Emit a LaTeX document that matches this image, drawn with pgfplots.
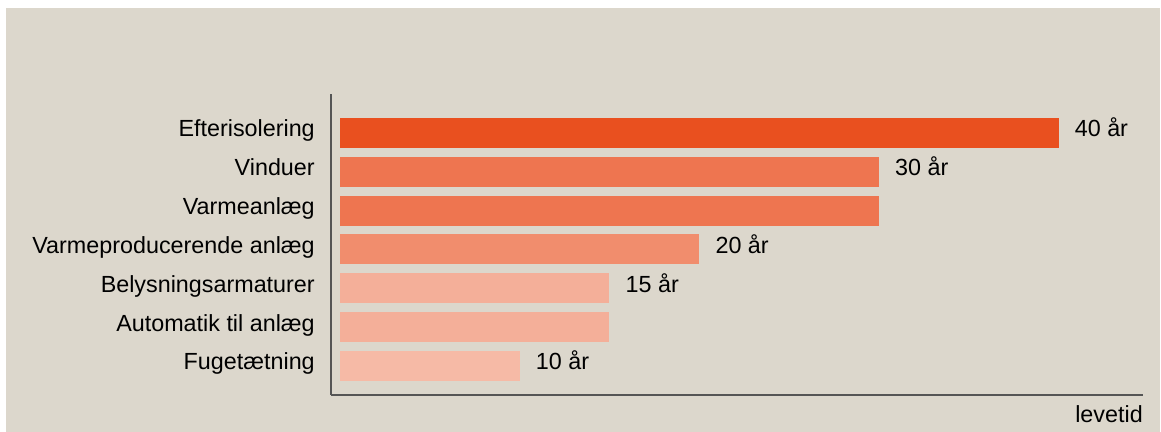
\documentclass[border=0pt]{standalone}
\usepackage{fontspec}
\setmainfont{Liberation Sans}
\usepackage{pgfplots}
\pgfplotsset{compat=1.18}
\definecolor{bg}{HTML}{DCD7CC}
\definecolor{axisgray}{HTML}{555555}
\definecolor{c1}{HTML}{E9501F}
\definecolor{c2}{HTML}{EE7550}
\definecolor{c3}{HTML}{F18D6D}
\definecolor{c4}{HTML}{F4AF99}
\definecolor{c5}{HTML}{F6BAA6}
\newcommand{\lblfont}{\fontsize{17.5}{20}\selectfont}
\begin{document}
\begin{tikzpicture}
\path[use as bounding box, fill=white] (0,0) rectangle (870.75pt,324pt);
\fill[bg] (4.5pt,0) rectangle (870pt,318pt);
\begin{axis}[
  at={(248.25pt,27.75pt)}, anchor=south west,
  scale only axis, width=609pt, height=225.75pt,
  xmin=-0.5, xmax=44.7, ymin=-0.75, ymax=7,
  axis x line=bottom, axis y line=left,
  axis line style={-, draw=axisgray, line width=1pt},
  xtick=\empty, ytick={0,...,6},
  yticklabels={Fugetætning, Automatik til anlæg, Belysningsarmaturer, Varmeproducerende anlæg, Varmeanlæg, Vinduer, Efterisolering},
  major tick length=0pt,
  yticklabel style={font=\lblfont, inner sep=0pt, anchor=base east, xshift=-12pt, yshift=-3pt},
  xbar, bar width=22.5pt, bar shift=0pt,
  xlabel={levetid},
  xlabel style={at={(axis description cs:1,0)}, anchor=north east, inner sep=0pt, yshift=-7.5pt, font=\lblfont},
  nodes near coords, point meta=explicit symbolic,
  every node near coord/.append style={font=\lblfont, inner sep=0pt, anchor=base west, xshift=12pt, yshift=-3pt, text=black},
  clip=false,
]
\addplot[fill=c1, draw=none] coordinates {(40,6) [40 år]};
\addplot[fill=c2, draw=none] coordinates {(30,5) [30 år]};
\addplot[fill=c2, draw=none] coordinates {(30,4) []};
\addplot[fill=c3, draw=none] coordinates {(20,3) [20 år]};
\addplot[fill=c4, draw=none] coordinates {(15,2) [15 år]};
\addplot[fill=c4, draw=none] coordinates {(15,1) []};
\addplot[fill=c5, draw=none] coordinates {(10,0) [10 år]};
\end{axis}
\end{tikzpicture}
\end{document}
